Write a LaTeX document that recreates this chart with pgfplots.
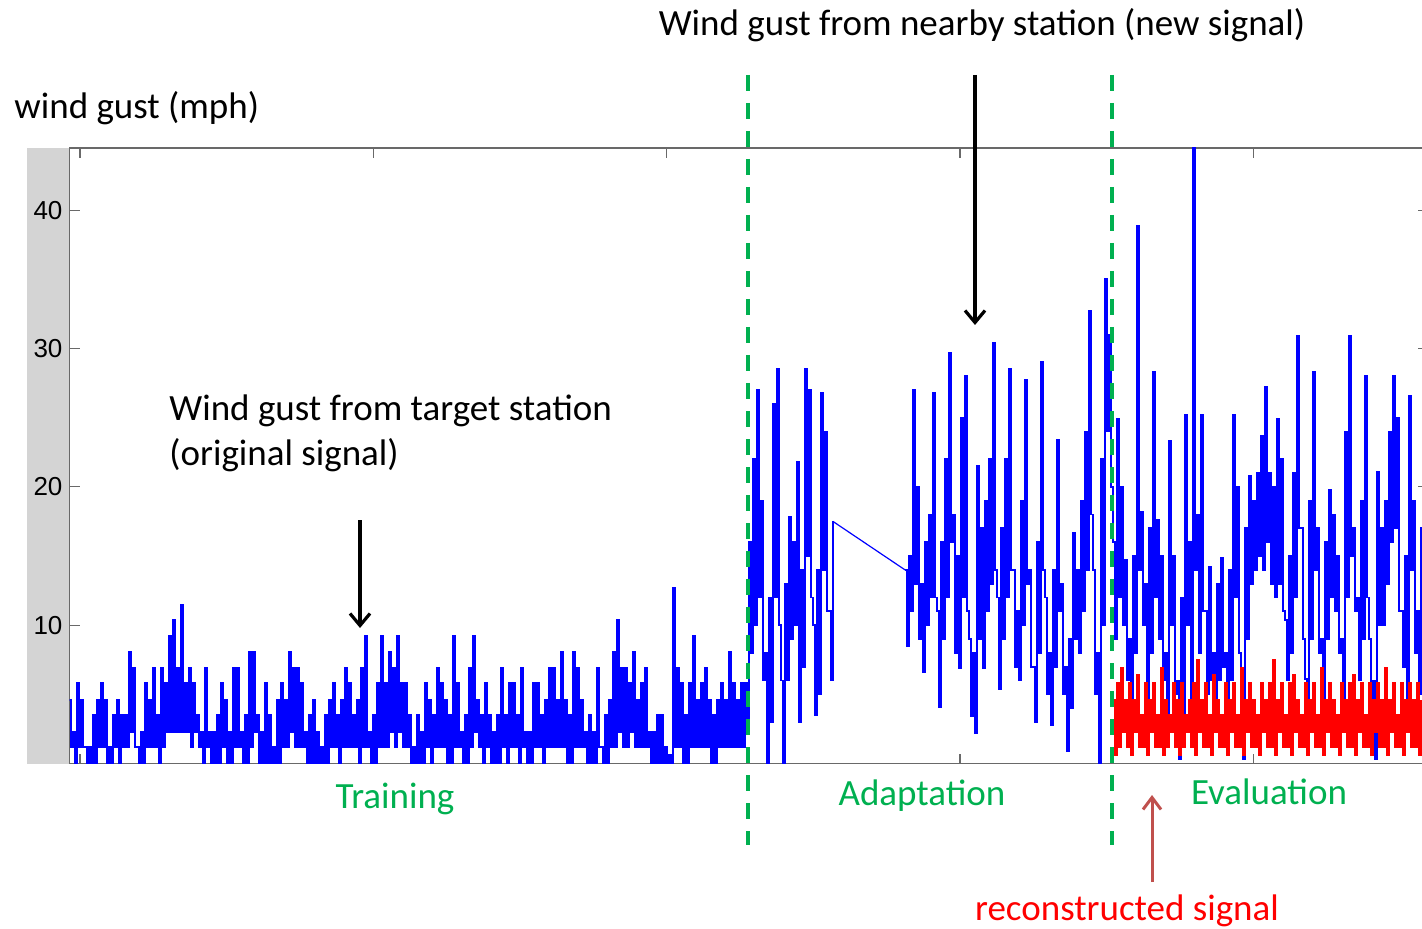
\documentclass[border=0pt]{standalone}
\usepackage{fontspec}
\setmainfont{Carlito}
\newfontfamily\tickfont{Liberation Sans}
\usepackage{pgfplots}
\pgfplotsset{compat=1.18}
\usetikzlibrary{arrows.meta}

\definecolor{gustblue}{RGB}{0,0,255}
\definecolor{phasegreen}{RGB}{0,176,80}
\definecolor{recred}{RGB}{255,0,0}
\definecolor{arrowred}{RGB}{192,80,77}
\definecolor{stripgray}{RGB}{212,212,212}
\definecolor{framegray}{RGB}{105,105,105}

\begin{document}
\begin{tikzpicture}[x=1pt,y=1pt]
\path[use as bounding box] (0,0) rectangle (711,464);
\clip (0,0) rectangle (711,464);
\fill[stripgray] (13.5,82.25) rectangle (34.75,390);

\begin{axis}[
  at={(34.75pt,82.25pt)}, anchor=south west,
  scale only axis, width=679.25pt, height=307.75pt,
  xmin=69.5, xmax=1428, ymin=0, ymax=44.5,
  xtick={80,373.3,666.7,960,1253.3}, xticklabel=\empty,
  ytick={10,20,30,40},
  tick align=inside, major tick length=5pt,
  axis line style={framegray, line width=0.6pt},
  every tick/.style={framegray, line width=0.6pt},
  /pgf/number format/assume math mode=true,
  yticklabel style={font=\tickfont\fontsize{13}{13}\selectfont, text=black},
  gust/.style={const plot, gustblue, line width=0.9pt, line join=miter},
]
% target station (training) followed by the nearby station, first stretch
\addplot[gust] table[row sep=\\] {
x y\\
69 4.6\\ 71 1.2\\ 73 2.3\\ 75 0\\ 77 5.8\\ 79 1.2\\ 81 4.6\\ 83 1.2\\ 85 1.2\\ 87 0\\
89 1.2\\ 91 0\\ 93 3.5\\ 95 0\\ 97 4.6\\ 99 1.2\\ 101 5.8\\ 103 1.2\\ 105 4.6\\ 107 0\\
109 1.2\\ 111 0\\ 113 3.5\\ 115 1.2\\ 117 4.6\\ 119 0\\ 121 3.5\\ 123 1.2\\ 125 3.5\\ 127 1.2\\
129 8.1\\ 131 2.3\\ 133 6.9\\ 135 1.2\\ 137 1.2\\ 139 0\\ 141 2.3\\ 143 0\\ 145 5.8\\ 147 1.2\\
149 4.6\\ 151 1.2\\ 153 6.9\\ 155 1.2\\ 157 3.5\\ 159 0\\ 161 6.9\\ 163 1.2\\ 165 5.8\\ 167 2.3\\
169 9.2\\ 171 2.3\\ 173 10.4\\ 175 2.3\\ 177 6.9\\ 179 2.3\\ 181 11.5\\ 183 2.3\\ 185 5.8\\ 187 2.3\\
189 6.9\\ 191 1.2\\ 193 5.8\\ 195 2.3\\ 197 3.5\\ 199 1.2\\ 201 2.3\\ 203 0\\ 205 6.9\\ 207 1.2\\
209 2.3\\ 211 0\\ 213 2.3\\ 215 0\\ 217 3.5\\ 219 0\\ 221 5.8\\ 223 1.2\\ 225 4.6\\ 227 0\\
229 2.3\\ 231 0\\ 233 6.9\\ 235 1.2\\ 237 6.9\\ 239 1.2\\ 241 2.3\\ 243 0\\ 245 3.5\\ 247 0\\
249 8.1\\ 251 1.2\\ 253 8.1\\ 255 2.3\\ 257 3.5\\ 259 0\\ 261 2.3\\ 263 0\\ 265 5.8\\ 267 0\\
269 3.5\\ 271 0\\ 273 1.2\\ 275 0\\ 277 4.6\\ 279 0\\ 281 5.8\\ 283 1.2\\ 285 4.6\\ 287 1.2\\
289 8.1\\ 291 2.3\\ 293 6.9\\ 295 1.2\\ 297 6.9\\ 299 1.2\\ 301 5.8\\ 303 1.2\\ 305 2.3\\ 307 0\\
309 3.5\\ 311 0\\ 313 4.6\\ 315 0\\ 317 2.3\\ 319 0\\ 321 1.2\\ 323 0\\ 325 3.5\\ 327 0\\
329 4.6\\ 331 1.2\\ 333 5.8\\ 335 1.2\\ 337 3.5\\ 339 0\\ 341 4.6\\ 343 1.2\\ 345 6.9\\ 347 1.2\\
349 5.8\\ 351 1.2\\ 353 3.5\\ 355 1.2\\ 357 4.6\\ 359 0\\ 361 6.9\\ 363 1.2\\ 365 9.2\\ 367 1.2\\
369 2.3\\ 371 0\\ 373 3.5\\ 375 0\\ 377 5.8\\ 379 1.2\\ 381 9.2\\ 383 1.2\\ 385 5.8\\ 387 1.2\\
389 8.1\\ 391 2.3\\ 393 6.9\\ 395 1.2\\ 397 9.2\\ 399 2.3\\ 401 5.8\\ 403 1.2\\ 405 5.8\\ 407 1.2\\
409 3.5\\ 411 0\\ 413 1.2\\ 415 0\\ 417 3.5\\ 419 0\\ 421 2.3\\ 423 0\\ 425 5.8\\ 427 1.2\\
429 4.6\\ 431 0\\ 433 3.5\\ 435 1.2\\ 437 6.9\\ 439 1.2\\ 441 5.8\\ 443 1.2\\ 445 4.6\\ 447 0\\
449 3.5\\ 451 0\\ 453 9.2\\ 455 1.2\\ 457 5.8\\ 459 1.2\\ 461 2.3\\ 463 0\\ 465 3.5\\ 467 0\\
469 6.9\\ 471 1.2\\ 473 9.2\\ 475 2.3\\ 477 4.6\\ 479 1.2\\ 481 3.5\\ 483 0\\ 485 5.8\\ 487 1.2\\
489 3.5\\ 491 0\\ 493 2.3\\ 495 0\\ 497 3.5\\ 499 0\\ 501 6.9\\ 503 1.2\\ 505 3.5\\ 507 0\\
509 5.8\\ 511 1.2\\ 513 5.8\\ 515 1.2\\ 517 3.5\\ 519 0\\ 521 6.9\\ 523 1.2\\ 525 2.3\\ 527 0\\
529 2.3\\ 531 0\\ 533 5.8\\ 535 1.2\\ 537 5.8\\ 539 1.2\\ 541 3.5\\ 543 0\\ 545 4.6\\ 547 1.2\\
549 6.9\\ 551 1.2\\ 553 6.9\\ 555 1.2\\ 557 4.6\\ 559 1.2\\ 561 8.1\\ 563 1.2\\ 565 4.6\\ 567 0\\
569 3.5\\ 571 0\\ 573 8.1\\ 575 1.2\\ 577 6.9\\ 579 1.2\\ 581 4.6\\ 583 1.2\\ 585 2.3\\ 587 0\\
589 3.5\\ 591 0\\ 593 2.3\\ 595 0\\ 597 6.9\\ 599 1.2\\ 601 1.2\\ 603 0\\ 605 3.5\\ 607 0\\
609 4.6\\ 611 1.2\\ 613 8.1\\ 615 1.2\\ 617 10.4\\ 619 2.3\\ 621 6.9\\ 623 1.2\\ 625 6.9\\ 627 1.2\\
629 5.8\\ 631 2.3\\ 633 8.1\\ 635 1.2\\ 637 4.6\\ 639 1.2\\ 641 5.8\\ 643 1.2\\ 645 6.9\\ 647 1.2\\
649 2.3\\ 651 0\\ 653 2.3\\ 655 0\\ 657 3.5\\ 659 0\\ 661 3.5\\ 663 0\\ 665 1.2\\ 667 0\\
669 0.6\\ 671 0\\ 673 12.7\\ 675 1.2\\ 677 6.9\\ 679 1.2\\ 681 5.8\\ 683 0\\ 685 3.5\\ 687 0\\
689 5.8\\ 691 1.2\\ 693 9.2\\ 695 1.2\\ 697 4.6\\ 699 1.2\\ 701 5.8\\ 703 1.2\\ 705 6.9\\ 707 1.2\\
709 4.6\\ 711 0\\ 713 3.5\\ 715 0\\ 717 4.6\\ 719 1.2\\ 721 5.8\\ 723 1.2\\ 725 4.6\\ 727 1.2\\
729 8.1\\ 731 1.2\\ 733 5.8\\ 735 1.2\\ 737 4.6\\ 739 1.2\\ 741 5.8\\ 743 1.2\\ 745 5.8\\ 747 2.3\\
749 16\\ 751 8\\ 753 22\\ 755 10\\ 757 27\\ 759 12\\ 761 19\\ 763 6\\ 765 8\\ 767 0\\
769 12\\ 771 3\\ 773 26\\ 775 12\\ 777 28.5\\ 779 10\\ 781 6\\ 783 0\\ 785 13\\ 787 6\\
789 17.8\\ 791 9\\ 793 16\\ 795 10\\ 797 21.8\\ 799 3\\ 801 14\\ 803 7\\ 805 28.5\\ 807 15\\
809 27\\ 811 12\\ 813 10\\ 815 3.5\\ 817 14\\ 819 5\\ 821 26.8\\ 823 14\\ 825 24\\ 827 11\\
829 11\\ 831 6\\ 833 17.5\\
};
% missing records at the nearby station, joined by a straight line
\addplot[sharp plot, gustblue, line width=0.6pt] coordinates {(833,17.5) (905,14)};
% nearby station, second stretch and evaluation period
\addplot[gust] table[row sep=\\] {
x y\\
905 14\\ 907 8.5\\ 909 15\\ 911 11\\ 913 27\\ 915 13\\ 917 20\\ 919 9\\ 921 13\\ 923 6.6\\
925 16\\ 927 10\\ 929 18\\ 931 12\\ 933 26.8\\ 935 12\\ 937 11\\ 939 4.1\\ 941 16\\ 943 9\\
945 22\\ 947 12\\ 949 29.7\\ 951 16\\ 953 18\\ 955 8\\ 957 15\\ 959 6.9\\ 961 25\\ 963 12\\
965 28\\ 967 11\\ 969 9\\ 971 3.4\\ 973 8\\ 975 2.2\\ 977 21.5\\ 979 9\\ 981 17\\ 983 6.9\\
985 19\\ 987 11\\ 989 22\\ 991 13\\ 993 30.4\\ 995 14\\ 997 12\\ 999 5.4\\ 1001 17\\ 1003 9\\
1005 22\\ 1007 12\\ 1009 28.5\\ 1011 14\\ 1013 14\\ 1015 7\\ 1017 11\\ 1019 6\\ 1021 19\\ 1023 10\\
1025 27.7\\ 1027 13\\ 1029 14\\ 1031 7\\ 1033 7\\ 1035 3\\ 1037 16\\ 1039 8\\ 1041 29\\ 1043 14\\
1045 12\\ 1047 5\\ 1049 8\\ 1051 2.8\\ 1053 14\\ 1055 7\\ 1057 23.4\\ 1059 11\\ 1061 13\\ 1063 5\\
1065 7\\ 1067 0.9\\ 1069 9\\ 1071 4\\ 1073 16.7\\ 1075 9\\ 1077 14\\ 1079 8\\ 1081 19\\ 1083 11\\
1085 24\\ 1087 14\\ 1089 32.7\\ 1091 18\\ 1093 14\\ 1095 5\\ 1097 8\\ 1099 0\\ 1101 22\\ 1103 10\\
1105 35\\ 1107 24\\ 1109 31\\ 1111 20\\
1113 16\\ 1115 9\\ 1117 24.9\\ 1119 12\\ 1121 20\\ 1123 10\\ 1125 14.7\\ 1127 6\\ 1129 9\\ 1131 4\\
1133 15\\ 1135 8\\ 1137 38.9\\ 1139 14\\ 1141 18.2\\ 1143 10\\ 1145 13\\ 1147 4\\ 1149 17\\ 1151 8\\
1153 28.3\\ 1155 12\\ 1157 17.6\\ 1159 9\\ 1161 15\\ 1163 6\\ 1165 8\\ 1167 3\\ 1169 23.3\\ 1171 10\\
1173 15\\ 1175 5\\ 1177 6\\ 1179 0.3\\ 1181 12\\ 1183 3\\ 1185 25.2\\ 1187 10\\ 1189 16\\ 1191 4\\
1193 46\\ 1195 14\\ 1197 18\\ 1199 8\\ 1201 25.2\\ 1203 11\\ 1205 11\\ 1207 5\\ 1209 14.2\\ 1211 6\\
1213 8\\ 1215 3\\ 1217 13\\ 1219 6\\ 1221 14.9\\ 1223 7\\ 1225 8\\ 1227 1.5\\ 1229 14\\ 1231 6\\
1233 25.2\\ 1235 12\\ 1237 20\\ 1239 8\\ 1241 6\\ 1243 0.3\\ 1245 17\\ 1247 9\\ 1249 20.8\\ 1251 13\\
1253 19\\ 1255 14\\ 1257 21\\ 1259 15\\ 1261 23.7\\ 1263 14\\ 1265 27.2\\ 1267 16\\ 1269 21\\ 1271 13\\
1273 20\\ 1275 12\\ 1277 24.9\\ 1279 13\\ 1281 22\\ 1283 11\\ 1285 10.4\\ 1287 6\\ 1289 15\\ 1291 8\\
1293 21\\ 1295 12\\ 1297 30.9\\ 1299 17\\ 1301 17\\ 1303 9\\ 1305 6.1\\ 1307 2\\ 1309 19\\ 1311 9\\
1313 28.3\\ 1315 14\\ 1317 17\\ 1319 8\\ 1321 9\\ 1323 4\\ 1325 16\\ 1327 9\\ 1329 19.8\\ 1331 12\\
1333 18\\ 1335 11\\ 1337 15\\ 1339 8\\ 1341 9\\ 1343 3\\ 1345 24\\ 1347 12\\ 1349 30.9\\ 1351 15\\
1353 17\\ 1355 11\\ 1357 12\\ 1359 6\\ 1361 19\\ 1363 9\\ 1365 28\\ 1367 12\\ 1369 9\\ 1371 3\\
1373 6\\ 1375 0.3\\ 1377 21.1\\ 1379 10\\ 1381 17\\ 1383 10\\ 1385 19\\ 1387 13\\ 1389 24\\ 1391 16\\
1393 28\\ 1395 17\\ 1397 25\\ 1399 11\\ 1401 11\\ 1403 7\\ 1405 15\\ 1407 4\\ 1409 26.6\\ 1411 14\\
1413 19\\ 1415 8\\ 1417 11\\ 1419 5\\ 1421 17\\ 1423 9\\ 1425 19\\ 1427 13\\
};
% signal reconstructed for the target station
\addplot[const plot, recred, line width=1.1pt, line join=miter] table[row sep=\\] {
x y\\
1113 4.6\\ 1115 0.6\\ 1117 5.8\\ 1119 1.2\\ 1121 6.9\\ 1123 2.3\\ 1125 4.6\\ 1127 1.2\\
1129 5.8\\ 1131 0.6\\ 1133 4.6\\ 1135 2.3\\ 1137 6.4\\ 1139 1.2\\ 1141 3.5\\ 1143 1.2\\
1145 5.8\\ 1147 0.6\\ 1149 4.6\\ 1151 2.3\\ 1153 5.8\\ 1155 1.2\\ 1157 3.5\\ 1159 1.2\\
1161 6.9\\ 1163 0.6\\ 1165 4.6\\ 1167 1.2\\ 1169 3.5\\ 1171 2.3\\ 1173 5.8\\ 1175 1.2\\
1177 4.6\\ 1179 0.6\\ 1181 5.8\\ 1183 1.2\\ 1185 3.5\\ 1187 2.3\\ 1189 4.6\\ 1191 1.2\\
1193 5.8\\ 1195 0.6\\ 1197 7.5\\ 1199 2.3\\ 1201 4.6\\ 1203 1.2\\ 1205 5.8\\ 1207 1.2\\
1209 3.5\\ 1211 0.6\\ 1213 6.4\\ 1215 2.3\\ 1217 4.6\\ 1219 1.2\\ 1221 3.5\\ 1223 1.2\\
1225 5.8\\ 1227 0.6\\ 1229 4.6\\ 1231 2.3\\ 1233 5.8\\ 1235 1.2\\ 1237 3.5\\ 1239 1.2\\
1241 6.9\\ 1243 0.6\\ 1245 4.6\\ 1247 2.3\\ 1249 5.8\\ 1251 1.2\\ 1253 4.6\\ 1255 1.2\\
1257 3.5\\ 1259 0.6\\ 1261 5.8\\ 1263 2.3\\ 1265 4.6\\ 1267 1.2\\ 1269 5.8\\ 1271 1.2\\
1273 7.5\\ 1275 0.6\\ 1277 4.6\\ 1279 2.3\\ 1281 5.8\\ 1283 1.2\\ 1285 3.5\\ 1287 1.2\\
1289 5.8\\ 1291 0.6\\ 1293 6.4\\ 1295 2.3\\ 1297 4.6\\ 1299 1.2\\ 1301 3.5\\ 1303 1.2\\
1305 5.8\\ 1307 0.6\\ 1309 4.6\\ 1311 2.3\\ 1313 5.8\\ 1315 1.2\\ 1317 3.5\\ 1319 1.2\\
1321 6.9\\ 1323 0.6\\ 1325 4.6\\ 1327 2.3\\ 1329 5.8\\ 1331 1.2\\ 1333 4.6\\ 1335 1.2\\
1337 3.5\\ 1339 0.6\\ 1341 5.8\\ 1343 2.3\\ 1345 4.6\\ 1347 1.2\\ 1349 5.8\\ 1351 1.2\\
1353 6.4\\ 1355 0.6\\ 1357 4.6\\ 1359 2.3\\ 1361 5.8\\ 1363 1.2\\ 1365 3.5\\ 1367 1.2\\
1369 5.8\\ 1371 0.6\\ 1373 4.6\\ 1375 2.3\\ 1377 5.8\\ 1379 1.2\\ 1381 4.6\\ 1383 1.2\\
1385 6.9\\ 1387 0.6\\ 1389 4.6\\ 1391 2.3\\ 1393 5.8\\ 1395 1.2\\ 1397 3.5\\ 1399 1.2\\
1401 5.8\\ 1403 0.6\\ 1405 4.6\\ 1407 2.3\\ 1409 5.8\\ 1411 1.2\\ 1413 4.6\\ 1415 1.2\\
1417 5.8\\ 1419 0.6\\ 1421 4.6\\
};
\end{axis}

% phase boundaries
\draw[phasegreen, line width=2pt, dash pattern=on 8pt off 6pt] (374,426.5) -- (374,41.5);
\draw[phasegreen, line width=2pt, dash pattern=on 8pt off 6pt] (556,426.5) -- (556,41.5);

% annotations
\begin{scope}[every node/.style={inner sep=0pt, font=\fontsize{18.5}{22}\selectfont}]
\node[anchor=base west] at (7,404.5) {wind gust (mph)};
\node[anchor=base] at (491,446) {Wind gust from nearby station (new signal)};
\node[anchor=base west] at (84.5,254) {Wind gust from target station};
\node[anchor=base west] at (84.5,231.5) {(original signal)};
\node[anchor=base, text=phasegreen] at (197.5,60) {Training};
\node[anchor=base, text=phasegreen] at (461,61.5) {Adaptation};
\node[anchor=base, text=phasegreen] at (634.5,62) {Evaluation};
\node[anchor=base, text=recred] at (563.5,4) {reconstructed signal};
\end{scope}

\draw[black, line width=1.6pt, -{Straight Barb[length=6pt,width=10pt]}] (180,204) -- (180,150);
\draw[black, line width=1.6pt, -{Straight Barb[length=6pt,width=10pt]}] (487.5,426.5) -- (487.5,301.5);
\draw[arrowred, line width=1.5pt, -{Straight Barb[length=6pt,width=9pt]}] (576,23) -- (576,66.5);
\end{tikzpicture}
\end{document}
